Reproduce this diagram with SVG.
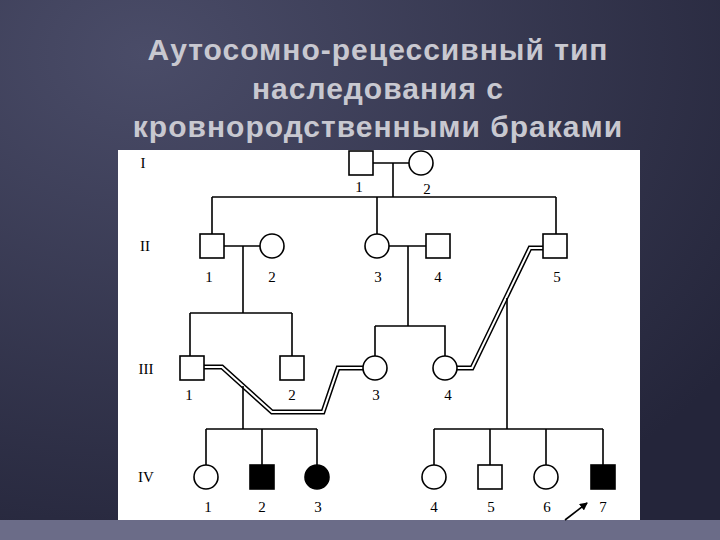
<svg xmlns="http://www.w3.org/2000/svg" width="720" height="540" viewBox="0 0 720 540">
<defs>
<radialGradient id="bg" cx="0.2" cy="0.1" r="1">
<stop offset="0" stop-color="#4a4c68"/><stop offset="1" stop-color="#24253a"/>
</radialGradient>
<marker id="ah" markerWidth="8" markerHeight="8" refX="7" refY="4" orient="auto" markerUnits="userSpaceOnUse">
<path d="M0,0 L8,4 L0,8 z" fill="#000"/></marker>
</defs>
<style>
.t{font-family:"Liberation Sans",Arial,sans-serif;font-weight:bold;font-size:30px;fill:#c8c8d0;text-anchor:middle;letter-spacing:1px}
.l{font-family:"Liberation Serif","Times New Roman",serif;font-size:15px;fill:#000;text-anchor:middle}
.s{fill:#fff;stroke:#000;stroke-width:1.6}
.f{fill:#000;stroke:#000;stroke-width:1.6}
.c{fill:none;stroke:#000;stroke-width:1.6}
.d1{fill:none;stroke:#000;stroke-width:5}
.d2{fill:none;stroke:#fff;stroke-width:2}
</style>
<rect width="720" height="540" fill="url(#bg)"/>
<rect x="0" y="520" width="720" height="20" fill="#6b6c88"/>
<text class="t" x="378" y="60">Аутосомно-рецессивный тип</text>
<text class="t" x="378" y="99">наследования с</text>
<text class="t" x="378" y="137">кровнородственными браками</text>
<rect x="118" y="150" width="522" height="370" fill="#fff"/>
<g id="gen-labels" class="l">
<text x="143" y="168">I</text><text x="145" y="251">II</text><text x="146" y="374">III</text><text x="146" y="482">IV</text>
</g>
<g id="connectors">
<path class="c" d="M373,163 H409 M393,163 V197 M212,197 H556 M212,197 V234 M377,197 V234 M556,197 V234"/>
<path class="c" d="M224,246 H260 M243,246 V313 M190,313 H292 M190,313 V356 M292,313 V356"/>
<path class="c" d="M389,246 H426 M408,246 V326 M375,326 V356 M375,326 H445 V356"/>
<path class="d1" d="M204,367 H222 L272,412 H323 L338,368 H363"/>
<path class="d2" d="M204,367 H222 L272,412 H323 L338,368 H363"/>
<path class="d1" d="M457,368 H472 L530,248 H543"/>
<path class="d2" d="M457,368 H472 L530,248 H543"/>
<path class="c" d="M243,386 V429 M206,429 H317 M206,429 V465 M262,429 V465 M317,429 V465"/>
<path class="c" d="M507,298 V429 M434,429 H603 M434,429 V465 M490,429 V465 M546,429 V465 M603,429 V465"/>
<path class="c" d="M565,520 L587,503" marker-end="url(#ah)"/>
</g>
<g id="I-1"><rect class="s" x="349" y="151" width="24" height="24"/><text class="l" x="359" y="192">1</text></g>
<g id="I-2"><circle class="s" cx="421" cy="163" r="12"/><text class="l" x="427" y="194">2</text></g>
<g id="II-1"><rect class="s" x="200" y="234" width="24" height="24"/><text class="l" x="209" y="282">1</text></g>
<g id="II-2"><circle class="s" cx="272" cy="246" r="12"/><text class="l" x="272" y="282">2</text></g>
<g id="II-3"><circle class="s" cx="377" cy="246" r="12"/><text class="l" x="378" y="282">3</text></g>
<g id="II-4"><rect class="s" x="426" y="234" width="24" height="24"/><text class="l" x="438" y="282">4</text></g>
<g id="II-5"><rect class="s" x="543" y="234" width="24" height="24"/><text class="l" x="557" y="282">5</text></g>
<g id="III-1"><rect class="s" x="180" y="356" width="24" height="24"/><text class="l" x="189" y="400">1</text></g>
<g id="III-2"><rect class="s" x="280" y="356" width="24" height="24"/><text class="l" x="292" y="400">2</text></g>
<g id="III-3"><circle class="s" cx="375" cy="368" r="12"/><text class="l" x="376" y="400">3</text></g>
<g id="III-4"><circle class="s" cx="445" cy="368" r="12"/><text class="l" x="448" y="400">4</text></g>
<g id="IV-1"><circle class="s" cx="206" cy="477" r="12"/><text class="l" x="208" y="512">1</text></g>
<g id="IV-2"><rect class="f" x="250" y="465" width="24" height="24"/><text class="l" x="262" y="512">2</text></g>
<g id="IV-3"><circle class="f" cx="317" cy="477" r="12"/><text class="l" x="318" y="512">3</text></g>
<g id="IV-4"><circle class="s" cx="434" cy="477" r="12"/><text class="l" x="434" y="512">4</text></g>
<g id="IV-5"><rect class="s" x="478" y="465" width="24" height="24"/><text class="l" x="491" y="512">5</text></g>
<g id="IV-6"><circle class="s" cx="546" cy="477" r="12"/><text class="l" x="547" y="512">6</text></g>
<g id="IV-7"><rect class="f" x="591" y="465" width="24" height="24"/><text class="l" x="603" y="512">7</text></g>
</svg>
